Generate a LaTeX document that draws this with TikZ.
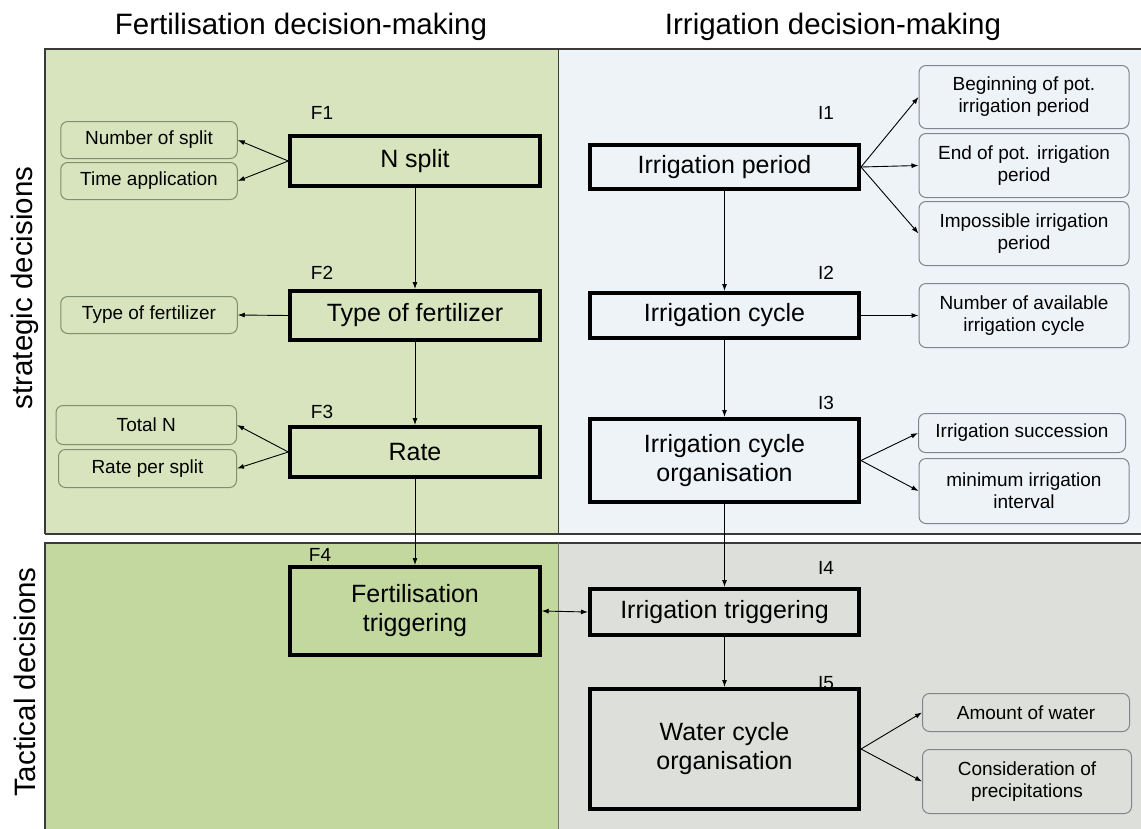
\documentclass[tikz,border=0pt]{standalone}
\usepackage{fontspec}
\setmainfont{Liberation Sans}
\usetikzlibrary{arrows.meta}
\definecolor{tlgreen}{HTML}{D7E4BD}
\definecolor{trblue}{HTML}{EEF3F7}
\definecolor{blgreen}{HTML}{C2D89F}
\definecolor{brgrey}{HTML}{DCDFDA}
\definecolor{sbgreen}{HTML}{7F8F6F}
\definecolor{sbgrey}{HTML}{80868C}
\definecolor{frame}{HTML}{3A3A3A}
\begin{document}
\begin{tikzpicture}[x=1pt,y=-1pt,
  mainbox/.style={draw=black, line width=4pt, inner sep=0pt, align=center,
    font=\fontsize{25}{29}\selectfont},
  fbox/.style={mainbox, minimum width=249.4pt},
  ibox/.style={mainbox, minimum width=269pt},
  subbox/.style={draw=#1, line width=1pt, rounded corners=7pt, inner sep=0pt, align=center,
    font=\fontsize{19}{22}\selectfont},
  lbox/.style={subbox=sbgreen, minimum width=176.5pt, minimum height=37pt},
  rbox/.style={subbox=sbgrey, minimum width=210pt},
  tag/.style={font=\fontsize{19}{22}\selectfont, inner sep=0pt},
  title/.style={font=\fontsize{29.5}{32}\selectfont, inner sep=0pt},
  conn/.style={draw=black, line width=0.9pt, -{Latex[length=7pt,width=5pt]}},
  dconn/.style={draw=black, line width=0.9pt, {Latex[length=7pt,width=5pt]}-{Latex[length=7pt,width=5pt]}}
]
\useasboundingbox (0,0) rectangle (1141,828);
% panels
\fill[tlgreen] (45,49) rectangle (558,534);
\fill[trblue] (558,49) rectangle (1145,534);
\fill[blgreen] (45,543) rectangle (558,830);
\fill[brgrey] (558,543) rectangle (1145,830);
\draw[frame, line width=1.2pt] (45,534) -- (45,49) -- (1145,49);
\draw[frame, line width=1.2pt] (45,534) -- (1145,534);
\draw[frame, line width=1.2pt] (45,830) -- (45,543) -- (1145,543);
\draw[frame, line width=0.8pt] (558,49) -- (558,534);
\draw[frame!70, line width=0.8pt] (558,543) -- (558,830);
% titles
\node[title] (tf) at (301,27) {Fertilisation decision-making};
\node[title] (ti) at (833,27) {Irrigation decision-making};
\node[title, rotate=90] (ls) at (25,288) {strategic decisions};
\node[title, rotate=90] (lt) at (25,682) {Tactical decisions};
% fertilisation main boxes
\node[fbox, minimum height=50pt] (F1) at (415,161) {N split};
\node[fbox, minimum height=49pt] (F2) at (415,315.5) {Type of fertilizer};
\node[fbox, minimum height=50pt] (F3) at (415,452) {Rate};
\node[fbox, minimum height=88pt] (F4) at (415,611) {Fertilisation\\triggering};
\node[tag] (tF1) at (322,113) {F1};
\node[tag] (tF2) at (322,273) {F2};
\node[tag] (tF3) at (322,412) {F3};
\node[tag] (tF4) at (320,555) {F4};
% fertilisation sub boxes
\node[lbox] (nsplit) at (149,140) {Number of split};
\node[lbox] (tapp) at (149,181) {Time application};
\node[lbox] (tfert) at (149,315) {Type of fertilizer};
\node[lbox, minimum width=180.5pt, minimum height=39pt] (totn) at (146.3,425) {Total N};
\node[lbox, minimum width=178pt, minimum height=38pt] (rps) at (147.5,468.5) {Rate per split};
% irrigation main boxes
\node[ibox, minimum height=44pt] (I1) at (724.5,167) {Irrigation period};
\node[ibox, minimum height=45pt] (I2) at (724.5,315.5) {Irrigation cycle};
\node[ibox, minimum height=83pt] (I3) at (724.5,460.5) {Irrigation cycle\\organisation};
\node[ibox, minimum height=46pt] (I4) at (724.5,612) {Irrigation triggering};
\node[ibox, minimum height=120pt] (I5) at (724.5,749) {Water cycle\\organisation};
\node[tag] (tI1) at (826,113) {I1};
\node[tag] (tI2) at (826,273) {I2};
\node[tag] (tI3) at (826,403) {I3};
\node[tag] (tI4) at (826,568) {I4};
\node[tag] (tI5) at (826,683) {I5};
% irrigation sub boxes
\node[rbox, minimum height=63pt] (beg) at (1024,97) {Beginning of pot.\\irrigation period};
\node[rbox, minimum height=64pt] (endp) at (1024,165.5) {End of pot. irrigation\\period};
\node[rbox, minimum height=64pt] (imp) at (1024,233.5) {Impossible irrigation\\period};
\node[rbox, minimum height=64pt] (navail) at (1024,315.5) {Number of available\\irrigation cycle};
\node[rbox, minimum width=207pt, minimum height=39pt] (succ) at (1022,433) {Irrigation succession};
\node[rbox, minimum height=65pt] (mini) at (1024,491) {minimum irrigation\\interval};
\node[rbox, minimum width=207pt, minimum height=38pt] (amount) at (1026,712.5) {Amount of water};
\node[rbox, minimum width=209pt, minimum height=64pt] (consid) at (1027,781.5) {Consideration of\\precipitations};
% connectors fertilisation
\draw[conn] (F1.west) -- (nsplit.east);
\draw[conn] (F1.west) -- (tapp.east);
\draw[conn] (F2.west) -- (tfert.east);
\draw[conn] (F3.west) -- (totn.east);
\draw[conn] (F3.west) -- (rps.east);
\draw[conn] (F1.south) -- (F2.north);
\draw[conn] (F2.south) -- (F3.north);
\draw[conn] (F3.south) -- (F4.north);
% connectors irrigation
\draw[conn] (I1.east) -- (beg.west);
\draw[conn] (I1.east) -- (endp.west);
\draw[conn] (I1.east) -- (imp.west);
\draw[conn] (I2.east) -- (navail.west);
\draw[conn] (I3.east) -- (succ.west);
\draw[conn] (I3.east) -- (mini.west);
\draw[conn] (I5.east) -- (amount.west);
\draw[conn] (I5.east) -- (consid.west);
\draw[conn] (I1.south) -- (I2.north);
\draw[conn] (I2.south) -- (I3.north);
\draw[conn] (I3.south) -- (I4.north);
\draw[conn] (I4.south) -- (I5.north);
\draw[dconn] (F4.east) -- (I4.west);
\end{tikzpicture}
\end{document}
